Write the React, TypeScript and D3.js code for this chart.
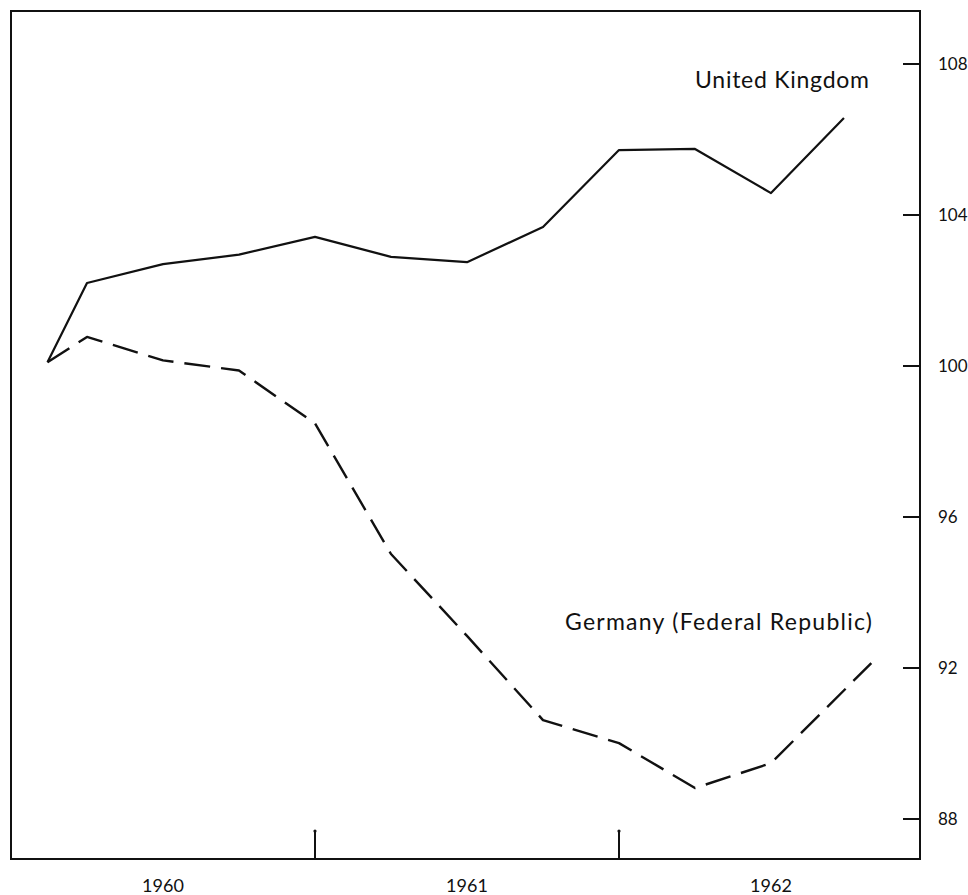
import React from "react";
import * as d3 from "d3";

const ukDates = [1960.12, 1960.25, 1960.5, 1960.75, 1961.0, 1961.25, 1961.5, 1961.75, 1962.0, 1962.25, 1962.5, 1962.74];
const ukValues = [100.1, 102.2, 102.7, 102.95, 103.42, 102.89, 102.75, 103.68, 105.72, 105.75, 104.58, 106.57];

const deDates = [1960.12, 1960.25, 1960.5, 1960.75, 1961.0, 1961.25, 1961.5, 1961.75, 1962.0, 1962.25, 1962.5, 1962.83];
const deValues = [100.1, 100.77, 100.15, 99.88, 98.48, 95.02, 92.85, 90.62, 90.01, 88.82, 89.48, 92.13];

const yTicks = [88, 92, 96, 100, 104, 108];
const yearLabels = ["1960", "1961", "1962"];
const yearBoundaries = [1961, 1962];

const W = 968;
const H = 895;
const left = 11;
const top = 11;
const right = 920;
const bottom = 859;

export default function App() {
  const x = d3.scaleLinear().domain([1960, 1963]).range([11, 923]);
  const y = d3.scaleLinear().domain([88, 108]).range([819, 64]);

  const line = d3
    .line<[number, number]>()
    .x((d) => x(d[0]))
    .y((d) => y(d[1]));

  const ukPath = line(ukDates.map((d, i) => [d, ukValues[i]]) as [number, number][]) || "";
  const dePath = line(deDates.map((d, i) => [d, deValues[i]]) as [number, number][]) || "";

  const font = "Lato, 'Noto Sans', sans-serif";

  return (
    <svg
      width={W}
      height={H}
      style={{ position: "absolute", left: 0, top: 0, background: "#fff" }}
    >
      <rect x={0} y={0} width={W} height={H} fill="#fff" />
      {/* frame */}
      <rect
        x={left}
        y={top}
        width={right - left}
        height={bottom - top}
        fill="none"
        stroke="#111"
        strokeWidth={2}
      />
      {/* right axis ticks */}
      {yTicks.map((t) => (
        <g key={t}>
          <line x1={right - 17} x2={right} y1={y(t)} y2={y(t)} stroke="#111" strokeWidth={2} />
          <text
            x={938}
            y={y(t)}
            dy="0.36em"
            fontFamily={font}
            fontSize={17}
            fill="#111"
          >
            {t}
          </text>
        </g>
      ))}
      {/* year boundary ticks */}
      {yearBoundaries.map((b) => (
        <g key={b}>
          <line x1={x(b)} x2={x(b)} y1={bottom} y2={831} stroke="#111" strokeWidth={2} />
          <circle cx={x(b)} cy={831} r={1.6} fill="#111" />
        </g>
      ))}
      {/* year labels */}
      {yearLabels.map((lab, i) => (
        <text
          key={lab}
          x={x(1960 + i + 0.5)}
          y={892}
          textAnchor="middle"
          fontFamily={font}
          fontSize={18}
          fill="#111"
        >
          {lab}
        </text>
      ))}
      {/* series */}
      <path d={ukPath} fill="none" stroke="#111" strokeWidth={2.2} strokeLinejoin="round" />
      <path
        d={dePath}
        fill="none"
        stroke="#111"
        strokeWidth={2.4}
        strokeDasharray="26,11"
        strokeLinejoin="round"
      />
      {/* labels */}
      <text
        x={695}
        y={88}
        fontFamily={font}
        fontSize={23}
        fill="#111"
        textLength={174}
        lengthAdjust="spacing"
      >
        United Kingdom
      </text>
      <text
        x={565}
        y={630}
        fontFamily={font}
        fontSize={23}
        fill="#111"
        textLength={307}
        lengthAdjust="spacing"
      >
        Germany (Federal Republic)
      </text>
    </svg>
  );
}
